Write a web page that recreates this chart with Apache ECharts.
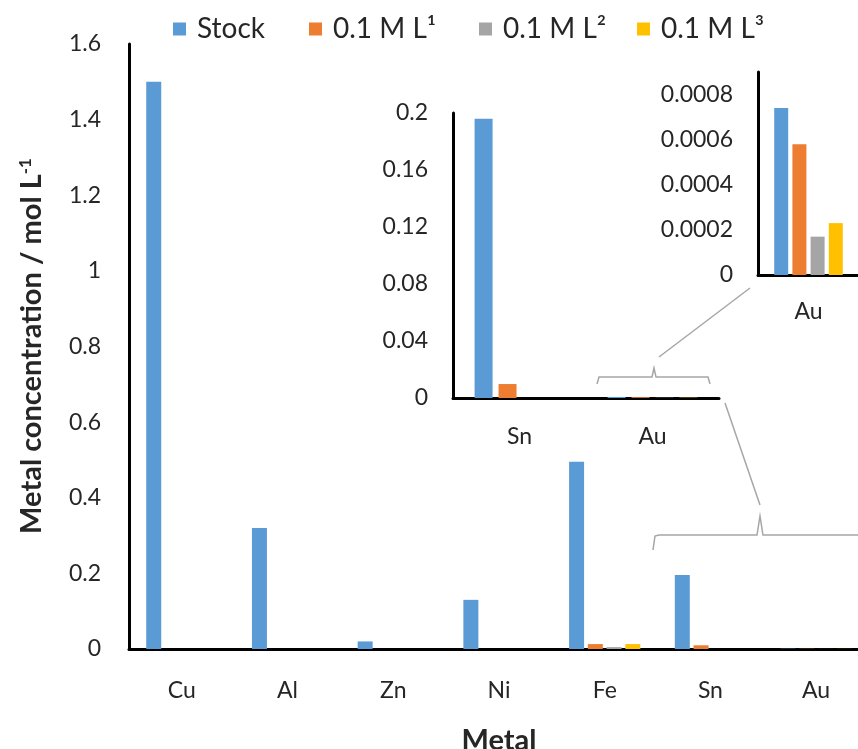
<!DOCTYPE html>
<html>
<head>
<meta charset="utf-8">
<script src="https://cdn.jsdelivr.net/npm/echarts@6/dist/echarts.min.js"></script>
<style>
  html, body { margin: 0; padding: 0; background: #fff; }
  #chart { width: 858px; height: 749px; }
</style>
</head>
<body>
<div id="chart"></div>
<script>
// Metal concentrations (mol/L) in the stock solution and after each extraction
const metals = ['Cu', 'Al', 'Zn', 'Ni', 'Fe', 'Sn', 'Au'];
const stock = [1.50, 0.32, 0.02, 0.13, 0.495, 0.196, 0.00074];
const ligand1 = [0, 0, 0, 0, 0.013, 0.0098, 0.00058];
const ligand2 = [0, 0, 0, 0, 0.005, 0, 0.00017];
const ligand3 = [0, 0, 0, 0, 0.013, 0, 0.00023];

const seriesNames = ['Stock', '0.1 M L¹', '0.1 M L²', '0.1 M L³'];
const seriesColors = ['#5B9BD5', '#ED7D31', '#A5A5A5', '#FFC000'];
const seriesData = [stock, ligand1, ligand2, ligand3];

// Zoomed panels: Sn + Au, and Au alone
const snAuIdx = [5, 6];
const auIdx = [6];

const FONT = 'Lato, "Noto Sans", sans-serif';
const TXT = '#262626';
const TICK_SIZE = 23;

const chart = echarts.init(document.getElementById('chart'));

function pick(arr, idx) { return idx.map(i => arr[i]); }

function barSeries(gridIdx, idx, width, gap) {
  return seriesNames.map((name, s) => ({
    name: name,
    type: 'bar',
    xAxisIndex: gridIdx,
    yAxisIndex: gridIdx,
    barWidth: width,
    barGap: gap,
    itemStyle: { color: seriesColors[s] },
    data: idx ? pick(seriesData[s], idx) : seriesData[s]
  }));
}

const axisLine = { lineStyle: { color: '#000', width: 3 } };
const bracketStyle = { stroke: '#A6A6A6', lineWidth: 1.5, fill: null };

// one legend entry per series, laid out along the top
const legendLeft = [168, 304, 474, 632];
const legends = seriesNames.map((name, i) => ({
  data: [name],
  left: legendLeft[i],
  top: 10,
  itemWidth: 13,
  itemHeight: 13,
  icon: 'rect',
  textStyle: { fontSize: 28, color: TXT, fontFamily: FONT, padding: [0, 0, 0, 6] }
}));

const grids = [
  { left: 129, top: 44, right: -11, bottom: 100 },
  { left: 453, top: 113, width: 266, height: 285 },
  { left: 758, top: 72, width: 101, height: 203 }
].map(g => Object.assign({ containLabel: false, outerBoundsMode: 'none' }, g));

function catAxis(gridIndex, data, margin, extra) {
  return Object.assign({
    gridIndex: gridIndex, type: 'category', data: data,
    axisLine: axisLine, axisTick: { show: false },
    axisLabel: { fontSize: TICK_SIZE, color: TXT, margin: margin, fontFamily: FONT }
  }, extra || {});
}

function valAxis(gridIndex, max, interval, margin, showMax) {
  return {
    gridIndex: gridIndex, type: 'value', min: 0, max: max, interval: interval,
    axisLine: { show: true, lineStyle: { color: '#000', width: 3 } },
    axisTick: { show: false }, splitLine: { show: false },
    axisLabel: { fontSize: TICK_SIZE, color: TXT, margin: margin, fontFamily: FONT, showMaxLabel: showMax }
  };
}

const option = {
  animation: false,
  textStyle: { fontFamily: FONT },
  legend: legends,
  grid: grids,
  xAxis: [
    catAxis(0, metals, 30, {
      name: 'Metal', nameLocation: 'middle', nameGap: 77,
      nameTextStyle: { fontSize: 29, fontWeight: 'bold', color: TXT, fontFamily: FONT }
    }),
    catAxis(1, pick(metals, snAuIdx), 27),
    catAxis(2, pick(metals, auIdx), 25)
  ],
  yAxis: [
    valAxis(0, 1.6, 0.2, 28, true),
    valAxis(1, 0.2, 0.04, 25, true),
    valAxis(2, 0.0009, 0.0002, 25, false)
  ],
  series: [].concat(
    barSeries(0, null, 15, '25%'),
    barSeries(1, snAuIdx, 18, '33%'),
    barSeries(2, auIdx, 14, '30%')
  ),
  graphic: [
    // vertical axis title with superscript
    {
      type: 'text',
      x: 32, y: 346,
      rotation: Math.PI / 2,
      style: {
        text: 'Metal concentration / mol L{sup|-1}',
        fontFamily: FONT, fontSize: 29, fontWeight: 'bold', fill: TXT,
        align: 'center', verticalAlign: 'middle',
        rich: {
          sup: { fontSize: 17, fontWeight: 'bold', verticalAlign: 'top', lineHeight: 17, fontFamily: FONT, fill: TXT }
        }
      }
    },
    // bracket under Au in the Sn/Au panel and its leader to the Au panel
    {
      type: 'polyline',
      shape: { points: [[597, 384], [599, 377], [652, 377], [654, 368], [656, 377], [708, 377], [710, 384]] },
      style: bracketStyle
    },
    { type: 'line', shape: { x1: 659, y1: 357, x2: 750, y2: 288 }, style: bracketStyle },
    // bracket over Sn/Au in the main plot and its leader to the Sn/Au panel
    {
      type: 'polyline',
      shape: { points: [[653, 550], [655, 536], [659, 535], [757, 535], [760, 516], [763, 535], [870, 535]] },
      style: bracketStyle
    },
    { type: 'line', shape: { x1: 760, y1: 505, x2: 725, y2: 403 }, style: bracketStyle }
  ]
};

chart.setOption(option);
</script>
</body>
</html>
